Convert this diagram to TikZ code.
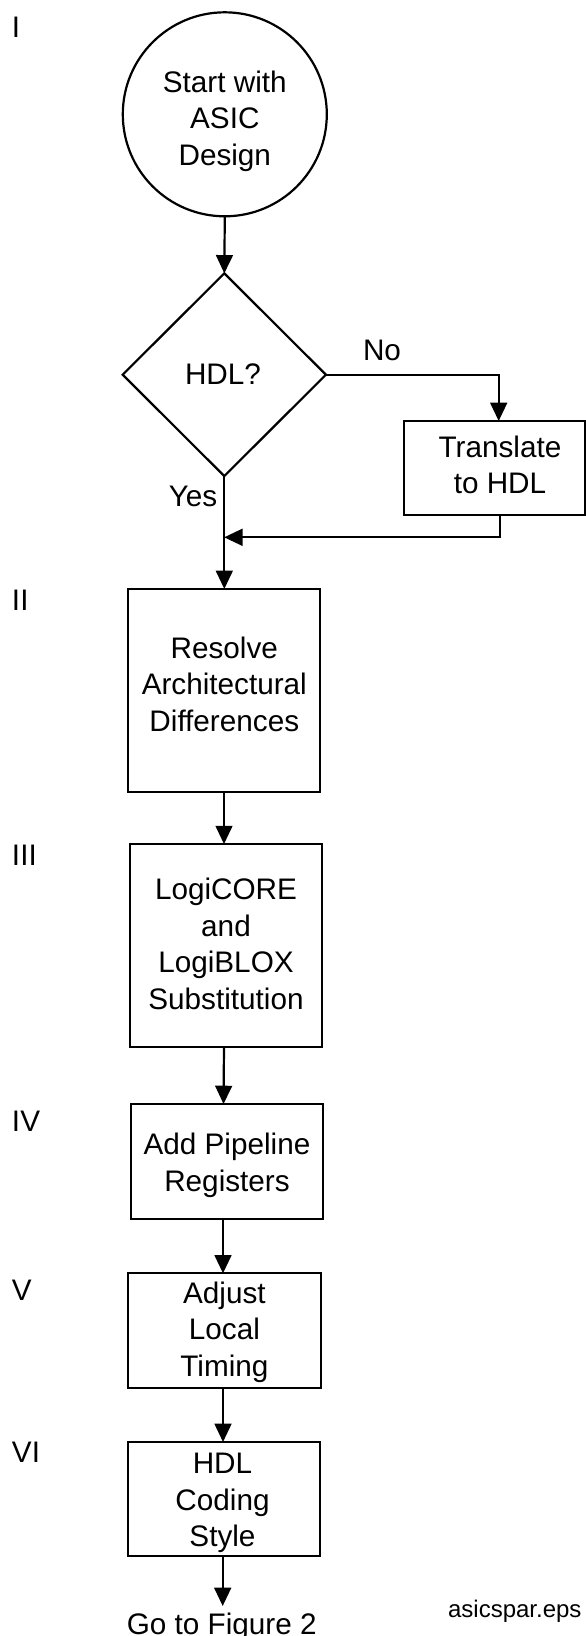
\documentclass[tikz,border=0pt]{standalone}
\usepackage{fontspec}
\setmainfont{Liberation Sans}
\usetikzlibrary{arrows.meta,shapes.geometric}

\tikzset{
  every node/.style={inner sep=0pt, outer sep=0pt},
  main/.style={font=\fontsize{29.7}{36.7}\selectfont, align=center},
  small/.style={font=\fontsize{24}{29}\selectfont},
  stepbox/.style={draw, line width=2.2pt, rectangle},
  startnode/.style={draw, line width=2.2pt, circle, minimum size=204pt},
  decision/.style={draw, line width=2.2pt, diamond, minimum width=203.3pt, minimum height=202.7pt},
  phase/.style={main, anchor=base west},
  arr/.style={line width=2.2pt, -{Triangle[width=16.8pt,length=18.3pt]}},
  wire/.style={line width=2.2pt},
}

\begin{document}
\begin{tikzpicture}[x=1pt, y=-1pt]
\useasboundingbox (0,0) rectangle (586,1636);

% phase numbers down the left margin
\node[phase] (p1) at (12,37)     {I};
\node[phase] (p2) at (12,610)    {II};
\node[phase] (p3) at (12,865)    {III};
\node[phase] (p4) at (12,1131.7) {IV};
\node[phase] (p5) at (12,1300)   {V};
\node[phase] (p6) at (12,1462.7) {VI};

% start and decision
\node[startnode] (start) at (224.8,114.3) {};
\node[main] at (224.8,121.3) {Start with\\ASIC\\Design};

\node[decision] (hdl) at (224.3,374.7) {};
\node[main] at (223,374) {HDL?};

% side branch
\node[stepbox, minimum width=180.7pt, minimum height=94pt] (tr) at (494.7,468) {};
\node[main] at (500,464.9) {Translate\\to HDL};

% main steps
\node[stepbox, minimum width=192.1pt, minimum height=202.7pt] (b2) at (224.3,690.3) {};
\node[main] at (224.3,684.3) {Resolve\\Architectural\\Differences};

\node[stepbox, minimum width=192pt, minimum height=203.3pt] (b3) at (226,945.7) {};
\node[main] at (226,944) {LogiCORE\\and\\LogiBLOX\\Substitution};

\node[stepbox, minimum width=192.4pt, minimum height=115pt] (b4) at (227,1161.5) {};
\node[main] at (227,1165.5) {Add Pipeline\\Registers};

\node[stepbox, minimum width=192.4pt, minimum height=114.7pt] (b5) at (224.4,1330.7) {};
\node[main] at (224.4,1332.1) {Adjust\\Local\\Timing};

\node[stepbox, minimum width=192pt, minimum height=114pt] (b6) at (224.3,1499) {};
\node[main] at (222.5,1503) {HDL\\Coding\\Style};

\node[main, anchor=base] (next) at (221.7,1634) {Go to Figure 2};
\node[small, anchor=base] (file) at (514.8,1617) {asicspar.eps};

% branch labels
\node[main, anchor=base] (yes) at (193,506.7) {Yes};
\node[main, anchor=base] (no) at (382,360) {No};

% connectors
\coordinate (ax) at (224,0);
\coordinate (merge) at (224.2,537.3);

\draw[arr] (start.south) -- (hdl.north);
\draw[arr] (hdl.east) -| ([xshift=4pt]tr.north);
\draw[arr] ([xshift=5.5pt]tr.south) |- (merge);
\draw[arr] (hdl.south) -- (b2.north -| hdl.south);
\draw[arr] (b2.south -| ax) -- (b3.north -| ax);
\draw[arr] (b3.south -| ax) -- ([xshift=-0.5pt]b4.north -| ax);
\draw[arr] ([xshift=-1pt]b4.south -| ax) -- ([xshift=-1pt]b5.north -| ax);
\draw[arr] ([xshift=-1pt]b5.south -| ax) -- ([xshift=-1pt]b6.north -| ax);
\draw[arr] ([xshift=-1.3pt]b6.south -| ax) -- ([xshift=-1.3pt,yshift=28pt]next.base -| ax);
\end{tikzpicture}
\end{document}
